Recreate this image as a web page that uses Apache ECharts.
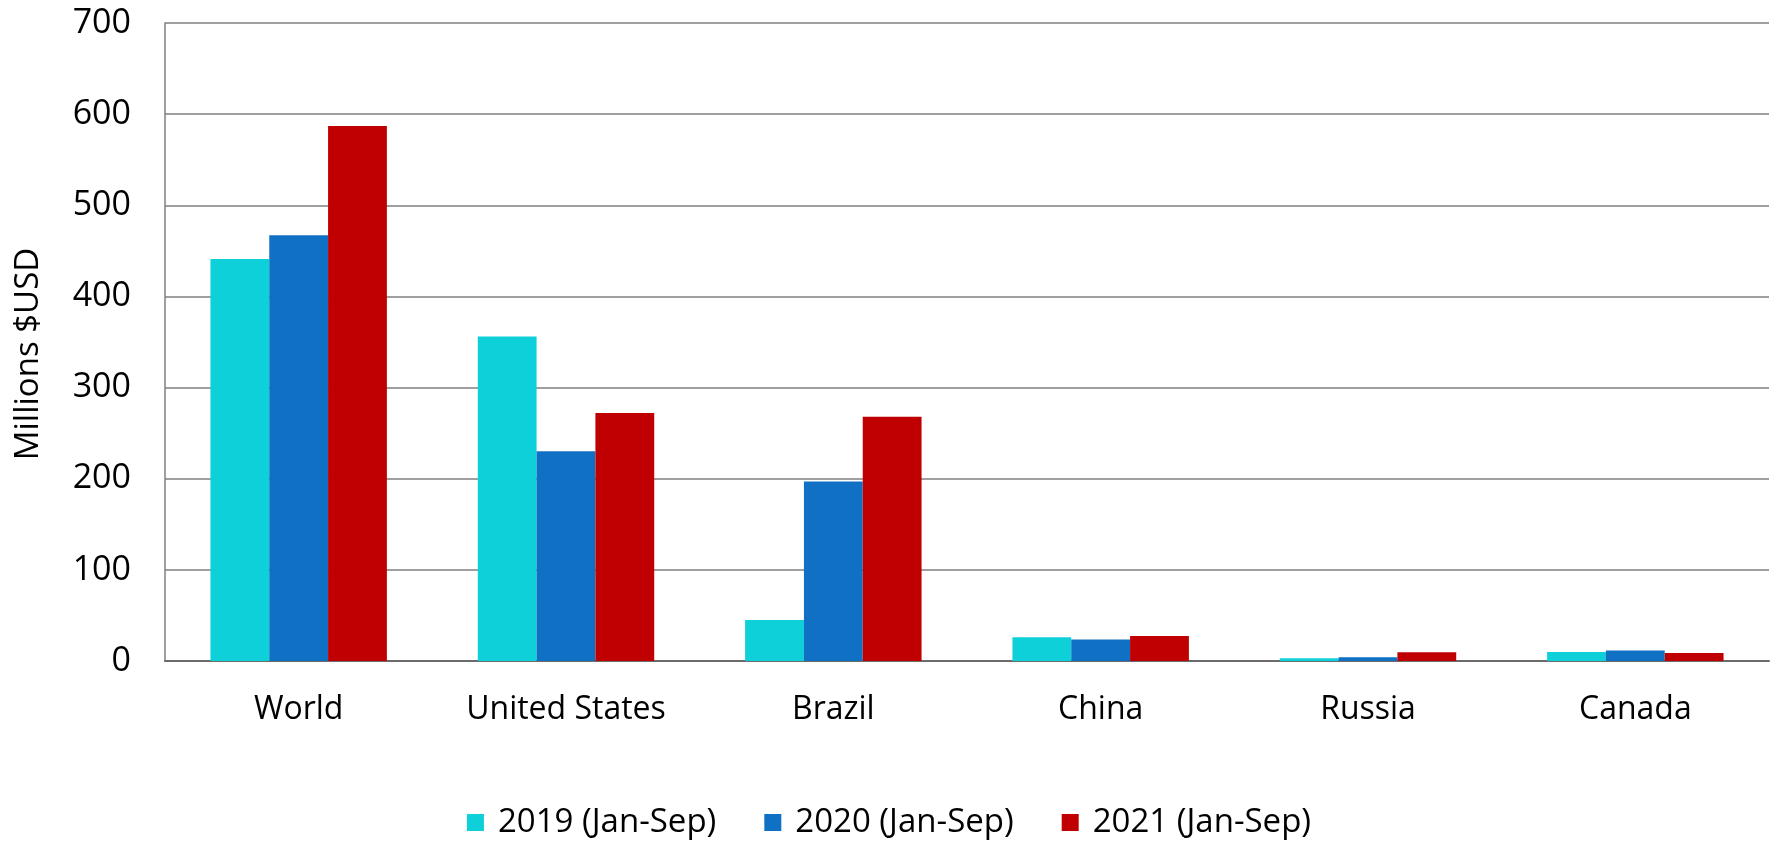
<!DOCTYPE html>
<html><head><meta charset="utf-8">
<script src="https://cdn.jsdelivr.net/npm/echarts@6/dist/echarts.min.js"></script>
<style>html,body{margin:0;padding:0;background:#fff}#c{width:1778px;height:844px}</style>
</head><body><div id="c"></div>
<script>
const categories = ["World", "United States", "Brazil", "China", "Russia", "Canada"];
const seriesNames = ["2019 (Jan-Sep)", "2020 (Jan-Sep)", "2021 (Jan-Sep)"];
const v2019 = [441, 356, 45, 26, 3, 10];
const v2020 = [467, 230, 197, 23.5, 4, 11.4];
const v2021 = [587, 272, 268, 27.5, 9.5, 8.8];
const colors = ["#0ED0D8", "#1070C4", "#C00000"];
const yTicks = [0, 100, 200, 300, 400, 500, 600, 700];

const font = "'Open Sans', 'Liberation Sans', sans-serif";
const chart = echarts.init(document.getElementById('c'));
const data = [v2019, v2020, v2021];
chart.setOption({
  animation: false,
  textStyle: {fontFamily: font},
  grid: {left: 165, right: 9, top: 23, bottom: 183},
  legend: {
    bottom: 0, left: 'center', itemWidth: 17, itemHeight: 17, itemGap: 48,
    icon: 'rect',
    textStyle: {fontSize: 33, color: '#000', fontFamily: font, padding: [0, 0, 0, 9]},
    data: seriesNames
  },
  xAxis: {
    type: 'category', data: categories,
    axisLine: {lineStyle: {color: '#6b6b6b', width: 2}},
    axisTick: {show: false},
    axisLabel: {fontSize: 32, color: '#000', margin: 33, interval: 0}
  },
  yAxis: {
    type: 'value', min: yTicks[0], max: yTicks[yTicks.length - 1], interval: 100,
    name: 'Millions $USD', nameLocation: 'middle', nameGap: 120, nameRotate: 90,
    nameTextStyle: {fontSize: 33, color: '#000', padding: [0, 24, 0, 0]},
    axisLine: {show: true, lineStyle: {color: '#7f7f7f', width: 1.5}},
    axisTick: {show: false},
    axisLabel: {fontSize: 34, color: '#000', margin: 34},
    splitLine: {lineStyle: {color: '#7f7f7f', width: 1.5}}
  },
  series: seriesNames.map((n, i) => ({
    name: n, type: 'bar', data: data[i],
    barGap: '0%', barCategoryGap: '34%',
    itemStyle: {color: colors[i]}
  }))
});
</script></body></html>
